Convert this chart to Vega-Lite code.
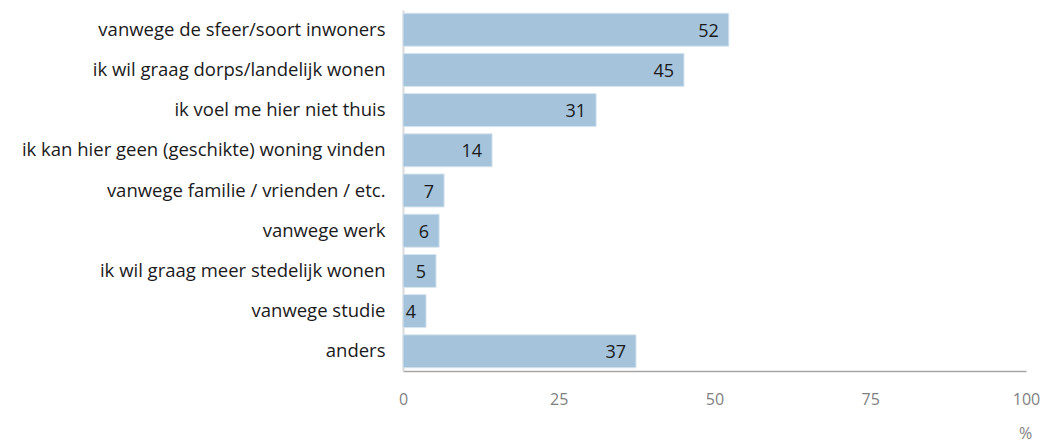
{
  "$schema": "https://vega.github.io/schema/vega-lite/v6.json",
  "autosize": {"type": "none"},
  "padding": {"left": 403, "top": 10, "right": 21, "bottom": 72},
  "width": 623,
  "height": 361,
  "background": "white",
  "config": {"view": {"stroke": null}, "font": "Open Sans"},
  "data": {
    "values": [
      {"reden": "vanwege de sfeer/soort inwoners", "pct": 52.3},
      {"reden": "ik wil graag dorps/landelijk wonen", "pct": 45.1},
      {"reden": "ik voel me hier niet thuis", "pct": 31.0},
      {"reden": "ik kan hier geen (geschikte) woning vinden", "pct": 14.3},
      {"reden": "vanwege familie / vrienden / etc.", "pct": 6.6},
      {"reden": "vanwege werk", "pct": 5.8},
      {"reden": "ik wil graag meer stedelijk wonen", "pct": 5.3},
      {"reden": "vanwege studie", "pct": 3.7},
      {"reden": "anders", "pct": 37.4}
    ]
  },
  "encoding": {
    "y": {
      "field": "reden",
      "type": "nominal",
      "sort": null,
      "scale": {"paddingInner": 0.18, "paddingOuter": 0.08},
      "axis": {
        "title": null,
        "ticks": false,
        "domainColor": "#d9d9d9",
        "domainWidth": 2,
        "labelFontSize": 18.5,
        "labelColor": "#1a1a1a",
        "labelPadding": 18,
        "labelLimit": 420
      }
    },
    "x": {
      "field": "pct",
      "type": "quantitative",
      "scale": {"domain": [0, 100], "nice": false},
      "axis": {
        "values": [0, 25, 50, 75, 100],
        "grid": false,
        "ticks": false,
        "domainColor": "#a6a6a6",
        "domainWidth": 1.5,
        "labelFlush": false,
        "labelFontSize": 16,
        "labelColor": "#7f7f7f",
        "labelPadding": 20,
        "title": "%",
        "titleFontWeight": "normal",
        "titleFontSize": 16,
        "titleColor": "#7f7f7f",
        "titleX": 622,
        "titleY": 62,
        "titleAlign": "center",
        "titleBaseline": "middle"
      }
    }
  },
  "layer": [
    {
      "mark": {"type": "bar", "color": "#a5c3da", "stroke": "#d6e4ef", "strokeWidth": 1}
    },
    {
      "mark": {"type": "text", "align": "right", "baseline": "middle", "dx": -10, "dy": 2, "fontSize": 18, "color": "#1a1a1a"},
      "encoding": {"text": {"field": "pct", "type": "quantitative", "format": ".0f"}}
    }
  ]
}
